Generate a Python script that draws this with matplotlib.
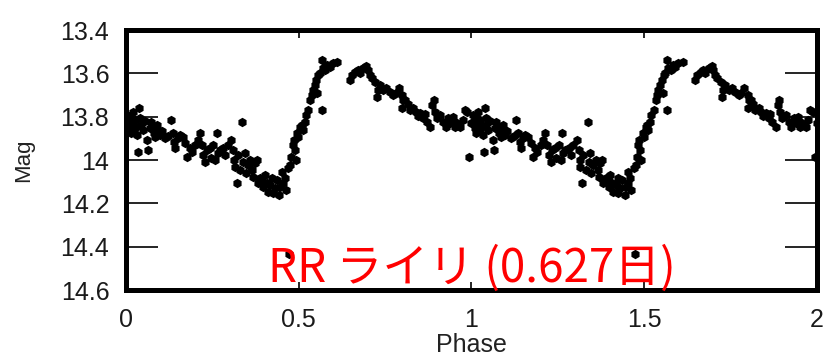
import numpy as np
from matplotlib import pyplot as plt

# light curve, one cycle (phase, mag); drawn twice for phase 0-2
rise_min = [
    (0.003, 13.792), (0.006, 13.825), (0.009, 13.852), (0.012, 13.806), (0.014, 13.875),
    (0.017, 13.838), (0.020, 13.778), (0.023, 13.862), (0.026, 13.815), (0.029, 13.848),
    (0.032, 13.885), (0.038, 13.760), (0.035, 13.963), (0.041, 13.806), (0.043, 13.838),
    (0.049, 13.862), (0.055, 13.820), (0.061, 13.908), (0.064, 13.954), (0.069, 13.852),
    (0.072, 13.825), (0.078, 13.843), (0.081, 13.875), (0.084, 13.894), (0.090, 13.838),
    (0.093, 13.862), (0.098, 13.885),
    (0.104, 13.866), (0.113, 13.898), (0.122, 13.889), (0.130, 13.815), (0.136, 13.875),
    (0.139, 13.917), (0.142, 13.945), (0.150, 13.898), (0.156, 13.885), (0.165, 13.894),
    (0.171, 13.922), (0.177, 13.986), (0.185, 13.945), (0.191, 13.963), (0.200, 13.931),
    (0.208, 13.908), (0.214, 13.875), (0.220, 13.931), (0.223, 13.977), (0.229, 14.009),
    (0.234, 13.954), (0.243, 13.945), (0.246, 13.991), (0.252, 13.931), (0.258, 14.000),
    (0.263, 13.875), (0.266, 13.968), (0.272, 13.954), (0.281, 13.945), (0.287, 13.977),
    (0.295, 13.931),
    (0.304, 13.908), (0.310, 13.954), (0.313, 14.000), (0.315, 14.032), (0.321, 14.106),
    (0.324, 13.977), (0.330, 14.046), (0.336, 13.825), (0.339, 14.009), (0.344, 13.968),
    (0.347, 14.060), (0.353, 14.023), (0.359, 14.000), (0.365, 14.046), (0.368, 14.078),
    (0.373, 14.014), (0.379, 14.000), (0.382, 14.106), (0.388, 14.083), (0.394, 14.092),
    (0.397, 14.125), (0.402, 14.069), (0.408, 14.106), (0.411, 14.148), (0.417, 14.115),
    (0.423, 14.083), (0.425, 14.152), (0.431, 14.129), (0.437, 14.092), (0.443, 14.162),
    (0.446, 14.125), (0.452, 14.055), (0.454, 14.106), (0.460, 14.083), (0.463, 14.138),
    (0.469, 14.037), (0.472, 14.434), (0.475, 14.023), (0.478, 13.986), (0.483, 13.931),
    (0.486, 13.908),
]
rise_max = [
    (0.489, 13.954), (0.492, 14.000), (0.495, 13.875), (0.498, 13.894), (0.504, 13.848),
    (0.509, 13.838), (0.512, 13.862), (0.518, 13.825), (0.521, 13.792), (0.527, 13.769),
    (0.533, 13.723), (0.538, 13.700), (0.541, 13.677), (0.547, 13.654), (0.550, 13.631),
    (0.553, 13.691), (0.556, 13.608), (0.561, 13.598), (0.567, 13.769), (0.567, 13.538),
    (0.570, 13.575), (0.576, 13.585), (0.582, 13.562), (0.590, 13.571), (0.599, 13.552),
    (0.611, 13.548),
]
decline = [
    (0.648, 13.631), (0.654, 13.608), (0.663, 13.594), (0.671, 13.585), (0.677, 13.598),
    (0.686, 13.575), (0.695, 13.566), (0.700, 13.585), (0.706, 13.608), (0.712, 13.622),
    (0.721, 13.640), (0.729, 13.677), (0.726, 13.709), (0.735, 13.654), (0.744, 13.677),
    (0.753, 13.668), (0.764, 13.686), (0.773, 13.700), (0.781, 13.691), (0.790, 13.668),
    (0.799, 13.700), (0.802, 13.723), (0.799, 13.760), (0.808, 13.723), (0.816, 13.742),
    (0.822, 13.769), (0.831, 13.760), (0.839, 13.778), (0.845, 13.797), (0.851, 13.783),
    (0.860, 13.806), (0.865, 13.788), (0.871, 13.825), (0.880, 13.848), (0.886, 13.746),
    (0.891, 13.723), (0.894, 13.778), (0.900, 13.806), (0.909, 13.792), (0.918, 13.825),
    (0.926, 13.848), (0.932, 13.806), (0.938, 13.829), (0.946, 13.802), (0.952, 13.848),
    (0.958, 13.829), (0.967, 13.848), (0.975, 13.815), (0.981, 13.769), (0.987, 13.778),
    (0.993, 13.986), (0.999, 13.829),
]

yticks = [13.4, 13.6, 13.8, 14.0, 14.2, 14.4, 14.6]
ytick_labels = ['13.4', '13.6', '13.8', '14', '14.2', '14.4', '14.6']
xticks = [0, 0.5, 1, 1.5, 2]
xtick_labels = ['0', '0.5', '1', '1.5', '2']
title_text = 'RR ライリ (0.627日)'

pts = np.array(rise_min + rise_max + decline)
phase, mag = pts[:, 0], pts[:, 1]

plt.rcParams['font.family'] = ['Liberation Sans', 'DejaVu Sans']

fig = plt.figure(figsize=(8.25, 3.59), dpi=100)
ax = fig.add_axes([0.1527, 0.1922, 0.8376, 0.7242])

for k in range(2):
    ax.scatter(phase + k, mag, s=46, c='black', marker='h', linewidths=0, zorder=2)

ax.set_xlim(0, 2)
ax.set_ylim(14.6, 13.4)

for sp in ax.spines.values():
    sp.set_linewidth(3.6)
    sp.set_color('black')

ax.set_yticks(yticks)
ax.set_yticklabels(ytick_labels)
ax.set_xticks(xticks)
ax.set_xticklabels(xtick_labels)
ax.tick_params(axis='y', direction='in', length=23, width=1.2, left=True, right=True,
               labelsize=18, pad=12, labelcolor='#1a1a1a')
ax.tick_params(axis='x', direction='in', length=6, width=1.2, top=True, bottom=True,
               labelsize=18, pad=13, labelcolor='#1a1a1a')

ax.set_xlabel('Phase', fontsize=18, color='#222222', labelpad=1)
ax.set_ylabel('Mag', fontsize=16, color='#222222', labelpad=19)

ax.text(1.0, 14.50, title_text, color='red', fontsize=33, ha='center', va='center',
        family=['Noto Sans CJK JP', 'DejaVu Sans'], zorder=3)

fig.savefig('out.png', dpi=100)
